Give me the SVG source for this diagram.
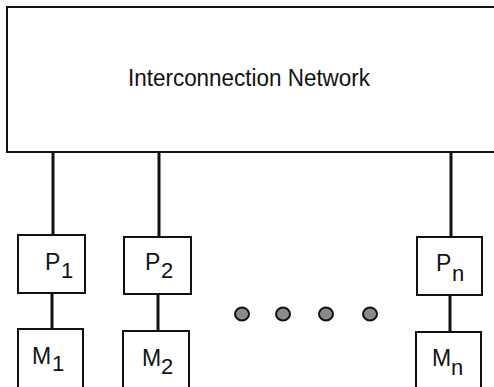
<svg xmlns="http://www.w3.org/2000/svg" width="494" height="387" viewBox="0 0 494 387">
<style>
.box{fill:#fff;stroke:#111;stroke-width:2}
.ln{stroke:#111;stroke-width:3;fill:none}
.t{font-family:"Liberation Sans",Arial,sans-serif;font-size:23px;fill:#111}
.s{font-size:22px}
.dot{fill:#8a8a8a;stroke:#111;stroke-width:2}
</style>
<rect width="494" height="387" fill="#fff"/>
<g id="connectors">
<line class="ln" x1="53" y1="152" x2="53" y2="235"/>
<line class="ln" x1="52" y1="293" x2="52" y2="329"/>
<line class="ln" x1="159" y1="152" x2="159" y2="237"/>
<line class="ln" x1="158" y1="294" x2="158" y2="331"/>
<line class="ln" x1="451" y1="152" x2="451" y2="237"/>
<line class="ln" x1="450" y1="295" x2="450" y2="332"/>
</g>
<g id="network">
<rect class="box" x="7" y="7" width="500" height="145"/>
<text class="t" x="128" y="86" textLength="242" lengthAdjust="spacingAndGlyphs">Interconnection Network</text>
</g>
<g id="p1">
<rect class="box" x="18" y="235" width="67" height="58"/>
<text class="t" x="45" y="270">P<tspan class="s" x="61" y="278">1</tspan></text>
</g>
<g id="p2">
<rect class="box" x="124" y="237" width="67" height="57"/>
<text class="t" x="145" y="270">P<tspan class="s" x="161" y="278">2</tspan></text>
</g>
<g id="pn">
<rect class="box" x="417" y="237" width="65" height="58"/>
<text class="t" x="436" y="271">P<tspan class="s" x="452" y="281">n</tspan></text>
</g>
<g id="m1">
<rect class="box" x="18" y="329" width="65" height="70"/>
<text class="t" x="32" y="364">M<tspan class="s" x="52" y="371">1</tspan></text>
</g>
<g id="m2">
<rect class="box" x="123" y="331" width="66" height="70"/>
<text class="t" x="142" y="366">M<tspan class="s" x="161" y="374">2</tspan></text>
</g>
<g id="mn">
<rect class="box" x="416" y="332" width="65" height="70"/>
<text class="t" x="432" y="366">M<tspan class="s" x="451" y="375">n</tspan></text>
</g>
<g id="dots">
<ellipse class="dot" cx="242" cy="314" rx="7" ry="6.5"/>
<ellipse class="dot" cx="283" cy="314" rx="7" ry="6.5"/>
<ellipse class="dot" cx="326" cy="314" rx="7" ry="6.5"/>
<ellipse class="dot" cx="370" cy="314" rx="7" ry="6.5"/>
</g>
</svg>
